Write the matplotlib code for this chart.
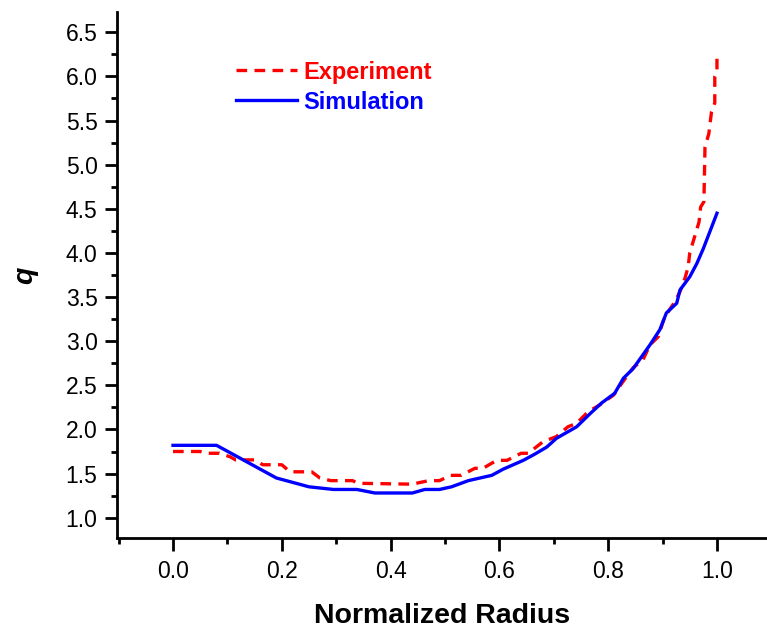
import matplotlib
matplotlib.use("Agg")
import matplotlib.pyplot as plt
from matplotlib.ticker import MultipleLocator

plt.rcParams['font.family'] = ['Liberation Sans', 'DejaVu Sans']

# experiment (red dashed)
exp_r = [0.0, 0.05, 0.06, 0.085, 0.105, 0.115, 0.15, 0.165, 0.20, 0.215, 0.255,
         0.27, 0.29, 0.33, 0.34, 0.44, 0.47, 0.49, 0.51, 0.53, 0.555, 0.57,
         0.595, 0.614, 0.64, 0.653, 0.68, 0.705, 0.726, 0.742, 0.763, 0.785,
         0.81, 0.827, 0.846, 0.864, 0.877, 0.892, 0.904, 0.91, 0.923, 0.932,
         0.941, 0.947, 0.95, 0.967, 0.970, 0.976, 0.978, 0.985, 0.99, 0.996,
         0.996, 1.0, 1.0]
exp_q = [1.75, 1.75, 1.73, 1.73, 1.69, 1.655, 1.655, 1.60, 1.60, 1.52, 1.52,
         1.45, 1.42, 1.42, 1.39, 1.38, 1.42, 1.42, 1.48, 1.48, 1.56, 1.56,
         1.65, 1.65, 1.73, 1.73, 1.86, 1.92, 2.03, 2.07, 2.20, 2.28,
         2.39, 2.54, 2.70, 2.79, 2.96, 3.05, 3.28, 3.33, 3.45, 3.56,
         3.71, 3.84, 4.00, 4.35, 4.52, 4.58, 5.20, 5.35, 5.60, 5.70,
         6.00, 6.05, 6.20]

# simulation (blue solid)
sim_r = [0.0, 0.08, 0.19, 0.25, 0.295, 0.338, 0.371, 0.44, 0.463, 0.49, 0.512,
         0.543, 0.586, 0.607, 0.644, 0.665, 0.687, 0.705, 0.742, 0.767, 0.788,
         0.812, 0.828, 0.846, 0.877, 0.895, 0.907, 0.926, 0.932, 0.95, 0.963,
         0.975, 1.0]
sim_q = [1.82, 1.82, 1.45, 1.35, 1.32, 1.32, 1.28, 1.28, 1.32, 1.32, 1.35,
         1.42, 1.48, 1.55, 1.65, 1.72, 1.80, 1.90, 2.03, 2.18, 2.30,
         2.41, 2.58, 2.69, 2.96, 3.13, 3.32, 3.43, 3.58, 3.73, 3.88,
         4.05, 4.45]

fig = plt.figure(figsize=(7.67, 6.30), dpi=100)
ax = fig.add_axes([117/767, 92/630, 650/767, 526/630])

ax.plot(exp_r, exp_q, color='red', lw=2.4, dashes=(3.2, 2.2), label='Experiment')
ax.plot(sim_r, sim_q, color='blue', lw=2.4, label='Simulation')

ax.set_xlim(-0.103, 1.092)
ax.set_ylim(0.77, 6.73)
ax.xaxis.set_major_locator(MultipleLocator(0.2))
ax.xaxis.set_minor_locator(MultipleLocator(0.1))
ax.yaxis.set_major_locator(MultipleLocator(0.5))
ax.yaxis.set_minor_locator(MultipleLocator(0.25))
ax.xaxis.set_major_formatter(plt.FormatStrFormatter('%.1f'))
ax.yaxis.set_major_formatter(plt.FormatStrFormatter('%.1f'))

for s in ['top', 'right']:
    ax.spines[s].set_visible(False)
for s in ['left', 'bottom']:
    ax.spines[s].set_linewidth(2)

ax.tick_params(which='major', length=9, width=2, labelsize=16.5)
ax.tick_params(which='minor', length=4.5, width=2)
ax.tick_params(axis='x', which='major', pad=7)
ax.tick_params(axis='y', which='major', pad=5)

ax.set_xlabel('Normalized Radius', fontsize=20.5, fontweight='bold', labelpad=14)
ax.set_ylabel('q', fontsize=20.5, fontweight='bold', style='italic', labelpad=20)

leg = ax.legend(loc='upper left', bbox_to_anchor=(0.165, 0.93), frameon=False,
                borderpad=0, handlelength=2.6, handletextpad=0.25,
                labelspacing=0.3, prop={'weight': 'bold', 'size': 17},
                labelcolor='linecolor')

fig.savefig('out.png', dpi=100)
